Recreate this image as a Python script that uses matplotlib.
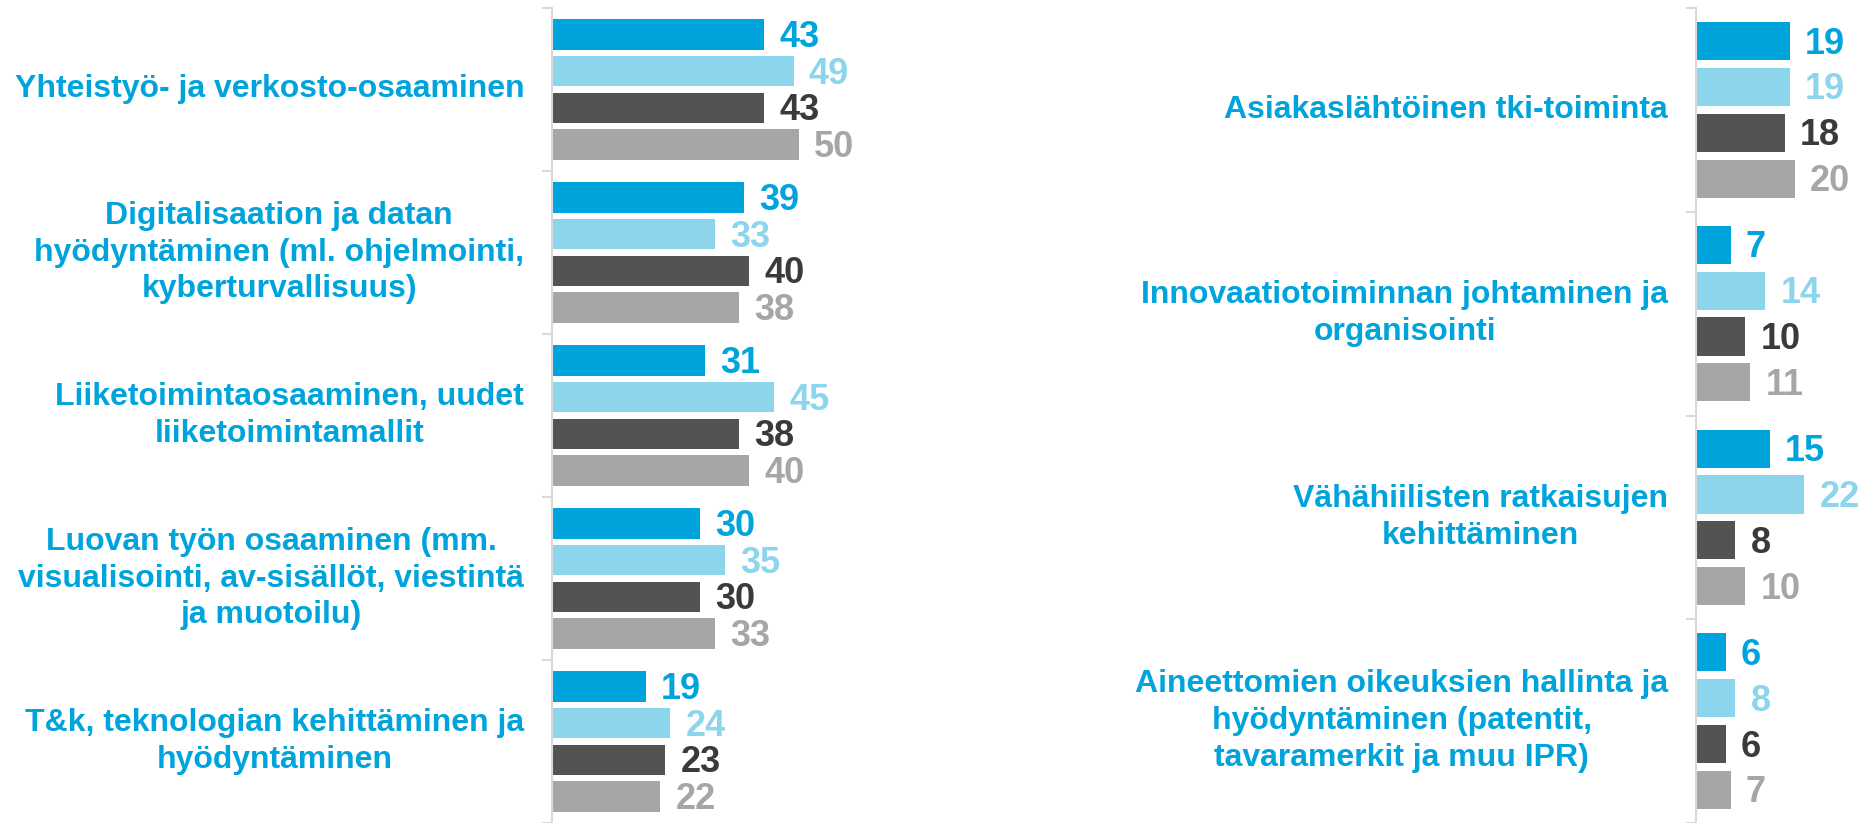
import numpy as np
import matplotlib.pyplot as plt

plt.rcParams['font.family'] = ['Liberation Sans', 'DejaVu Sans']

left_cats = [
    'Yhteistyö- ja verkosto-osaaminen',
    'Digitalisaation ja datan\nhyödyntäminen (ml. ohjelmointi,\nkyberturvallisuus)',
    'Liiketoimintaosaaminen, uudet\nliiketoimintamallit',
    'Luovan työn osaaminen (mm.\nvisualisointi, av-sisällöt, viestintä\nja muotoilu)',
    'T&k, teknologian kehittäminen ja\nhyödyntäminen',
]
left_s1 = [43, 39, 31, 30, 19]
left_s2 = [49, 33, 45, 35, 24]
left_s3 = [43, 40, 38, 30, 23]
left_s4 = [50, 38, 40, 33, 22]

right_cats = [
    'Asiakaslähtöinen tki-toiminta',
    'Innovaatiotoiminnan johtaminen ja\norganisointi',
    'Vähähiilisten ratkaisujen\nkehittäminen',
    'Aineettomien oikeuksien hallinta ja\nhyödyntäminen (patentit,\ntavaramerkit ja muu IPR)',
]
right_s1 = [19, 7, 15, 6]
right_s2 = [19, 14, 22, 8]
right_s3 = [18, 10, 8, 6]
right_s4 = [20, 11, 10, 7]

bar_colors = ['#00A4DC', '#8CD5ED', '#535353', '#A6A6A6']
text_colors = ['#00A4DC', '#8CD5ED', '#3A3A3A', '#A6A6A6']
cat_color = '#00A4DC'
axis_color = '#D9D9D9'

W, H = 1863, 823
fig = plt.figure(figsize=(W / 100, H / 100), dpi=100)

px_per_unit = 4.93
top = 1 - 8 / H


def draw_panel(ax, cats, series):
    n = len(cats)
    pitch = 0.225
    bh = 0.187
    for k, vals in enumerate(series):
        y = np.arange(n) + (k - 1.5) * pitch
        ax.barh(y, vals, height=bh, color=bar_colors[k], edgecolor='none')
        # digits sit on baseline, shift down half a digit height
        for yy, v in zip(y, vals):
            ax.annotate(str(v), xy=(v, yy), xytext=(11, -9), textcoords='offset points',
                        va='baseline', ha='left', fontsize=26, fontweight='bold',
                        color=text_colors[k])
    for i, c in enumerate(cats):
        ax.annotate(c, xy=(0, i), xytext=(-20, 0), textcoords='offset points',
                    va='center', ha='right', multialignment='center',
                    fontsize=23, fontweight='bold', color=cat_color, linespacing=1.3)
    ax.set_ylim(n - 0.5, -0.5)
    ax.set_yticks(np.arange(n + 1) - 0.5)
    ax.set_yticklabels([])
    ax.set_xticks([])
    for s in ['top', 'right', 'bottom']:
        ax.spines[s].set_visible(False)
    ax.spines['left'].set_color(axis_color)
    ax.spines['left'].set_linewidth(1.5)
    ax.tick_params(axis='y', direction='out', length=7, width=1.5, color=axis_color)
    ax.patch.set_visible(False)


ax1 = fig.add_axes([552 / W, 0, 60 * px_per_unit / W, top])
ax1.set_xlim(0, 60)
draw_panel(ax1, left_cats, [left_s1, left_s2, left_s3, left_s4])

ax2 = fig.add_axes([1696 / W, 0, 34 * px_per_unit / W, top])
ax2.set_xlim(0, 34)
draw_panel(ax2, right_cats, [right_s1, right_s2, right_s3, right_s4])

fig.savefig('out.png', dpi=100)
